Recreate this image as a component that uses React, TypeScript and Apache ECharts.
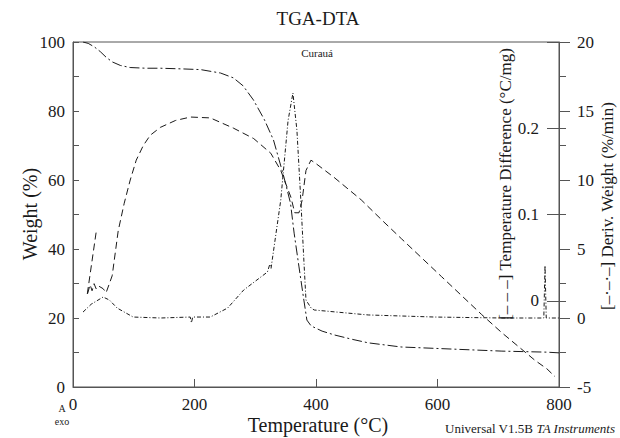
import React, { useEffect, useRef } from "react";
import * as echarts from "echarts";

// ---- data ----
const weightTemp = [16.5, 25, 35, 45, 55, 65, 78, 94, 120, 144, 180, 210, 243, 264, 280, 297, 315, 330, 347, 358, 364, 372, 380, 385, 392, 410, 430, 460, 486, 540, 623, 706, 780, 800];
const weightPct = [100, 99.6, 98.6, 97.2, 95.5, 94.2, 93.2, 92.6, 92.4, 92.4, 92.2, 92.0, 91.0, 89.6, 87.3, 83.2, 77.5, 71.6, 61, 53.3, 44.6, 34.8, 25.2, 19.4, 17.7, 16.2, 15.1, 13.8, 12.8, 11.6, 11.0, 10.4, 10.1, 9.9];

const derivTemp = [16.5, 30, 49.6, 60, 72.7, 99, 144, 193, 195, 197, 226, 254.5, 281, 320, 324, 326, 342, 354, 362, 368.6, 375, 380, 383.5, 392, 397, 486, 595, 706, 775, 777, 779, 800];
const derivVal = [0.43, 1.0, 1.52, 1.3, 0.72, 0.07, 0, 0.07, -0.35, 0.07, 0.07, 0.72, 2.03, 3.33, 3.9, 3.6, 8.55, 14.3, 16.3, 13.6, 8.55, 4.2, 1.3, 0.72, 0.58, 0.22, 0.07, 0, 0, 3.8, 0, 0];

const dtaTemp = [38, 23.1, 28.1, 31.4, 34.7, 38, 41.3, 49.6, 54.5, 64.5, 74.4, 84.3, 94.2, 104.1, 115.7, 127.3, 143.8, 168.6, 193.4, 226, 264.5, 297.5, 325.6, 342, 358.7, 365, 372, 377, 383.5, 391.7, 400, 429.8, 474.4, 510.7, 540.5, 606.6, 672.7, 705.8, 760.3, 780.2, 793.4];
const dtaVal = [0.079, 0.0058, 0.0186, 0.0116, 0.0198, 0.014, 0.0174, 0.014, 0.0093, 0.029, 0.081, 0.113, 0.14, 0.163, 0.18, 0.192, 0.201, 0.209, 0.213, 0.212, 0.2, 0.188, 0.171, 0.151, 0.12, 0.102, 0.102, 0.116, 0.151, 0.163, 0.159, 0.143, 0.117, 0.092, 0.072, 0.028, -0.016, -0.037, -0.069, -0.079, -0.088];

const xTicks = [0, 200, 400, 600, 800];
const weightTicks = [0, 20, 40, 60, 80, 100];
const derivTicks = [-5, 0, 5, 10, 15, 20];
const dtaTicks = [0, 0.1, 0.2];

const FONT = "'Liberation Serif', 'Times New Roman', serif";
const INK = "#1a1a1a";
const AXIS = "#555";

const pair = (xs: number[], ys: number[]) => xs.map((x, i) => [x, ys[i]]);

export default function App() {
  const ref = useRef<HTMLDivElement>(null);
  useEffect(() => {
    if (!ref.current) return;
    const chart = echarts.init(ref.current, undefined, { renderer: "svg" });
    const labelStyle = { color: INK, fontFamily: FONT, fontSize: 17 };
    const dtaBase = { type: "value", position: "right", min: -0.1, max: 0.3, interval: 0.1, axisLine: { show: false }, splitLine: { show: false } };
    chart.setOption({
      animation: false,
      backgroundColor: "#fff",
      textStyle: { fontFamily: FONT },
      grid: { left: 73, top: 42, width: 486, height: 345, show: true, borderColor: AXIS, borderWidth: 1, backgroundColor: "transparent" },
      xAxis: {
        type: "value",
        min: xTicks[0],
        max: xTicks[xTicks.length - 1],
        interval: 200,
        axisLine: { show: true, lineStyle: { color: AXIS } },
        axisTick: { show: true, inside: true, length: 8, lineStyle: { color: AXIS } },
        axisLabel: { ...labelStyle, margin: 9 },
        splitLine: { show: false },
      },
      yAxis: [
        {
          type: "value",
          position: "left",
          min: weightTicks[0],
          max: weightTicks[weightTicks.length - 1],
          interval: 20,
          axisLine: { show: true, lineStyle: { color: AXIS } },
          axisTick: { show: true, inside: true, length: 6, lineStyle: { color: AXIS } },
          minorTick: { show: true, splitNumber: 2, length: 6, lineStyle: { color: AXIS } },
          axisLabel: { ...labelStyle, margin: 8 },
          splitLine: { show: false },
        },
        {
          type: "value",
          position: "right",
          min: derivTicks[0],
          max: derivTicks[derivTicks.length - 1],
          interval: 5,
          axisLine: { show: true, lineStyle: { color: AXIS } },
          axisTick: { show: true, inside: false, length: 11, lineStyle: { color: AXIS } },
          minorTick: { show: true, splitNumber: 2, length: 7, lineStyle: { color: AXIS } },
          axisLabel: { ...labelStyle, margin: 18 },
          splitLine: { show: false },
        },
        {
          ...dtaBase,
          axisTick: { show: true, inside: true, length: 12, lineStyle: { color: AXIS } },
          axisLabel: {
            ...labelStyle,
            inside: true,
            margin: 20,
            formatter: (v: number) => {
              const hit = dtaTicks.find((t) => Math.abs(t - v) < 1e-6);
              return hit === undefined ? "" : hit === 0 ? "0" : hit.toFixed(1);
            },
          },
        },
        {
          ...dtaBase,
          axisTick: { show: true, inside: false, length: 7, lineStyle: { color: AXIS } },
          axisLabel: { show: false },
        },
      ],
      series: [
        {
          name: "Weight",
          type: "line",
          yAxisIndex: 0,
          showSymbol: false,
          data: pair(weightTemp, weightPct),
          lineStyle: { color: INK, width: 1, type: [10, 3, 2, 3] },
        },
        {
          name: "Deriv. Weight",
          type: "line",
          yAxisIndex: 1,
          showSymbol: false,
          data: pair(derivTemp, derivVal),
          lineStyle: { color: INK, width: 1, type: [4, 2, 1, 2] },
        },
        {
          name: "Temperature Difference",
          type: "line",
          yAxisIndex: 2,
          showSymbol: false,
          data: pair(dtaTemp, dtaVal),
          lineStyle: { color: INK, width: 1, type: [7, 4] },
        },
      ],
      graphic: [
        { type: "text", x: 318, y: 18, style: { text: "TGA-DTA", fontFamily: FONT, fontSize: 19, fill: INK, align: "center", verticalAlign: "middle" } },
        { type: "text", x: 317, y: 53, style: { text: "Curauá", fontFamily: FONT, fontSize: 11, fill: INK, align: "center", verticalAlign: "middle" } },
        { type: "text", x: 30, y: 214, rotation: Math.PI / 2, style: { text: "Weight (%)", fontFamily: FONT, fontSize: 20, fill: INK, align: "center", verticalAlign: "middle" } },
        { type: "text", x: 318, y: 425, style: { text: "Temperature (°C)", fontFamily: FONT, fontSize: 20, fill: INK, align: "center", verticalAlign: "middle" } },
        { type: "text", x: 62, y: 408, style: { text: "A", fontFamily: FONT, fontSize: 10, fill: INK, align: "center", verticalAlign: "middle" } },
        { type: "text", x: 62, y: 421, style: { text: "exo", fontFamily: FONT, fontSize: 10, fill: INK, align: "center", verticalAlign: "middle" } },
        {
          type: "text",
          x: 615,
          y: 428,
          style: {
            text: "Universal V1.5B {i|TA Instruments}",
            fontFamily: FONT,
            fontSize: 13,
            fill: INK,
            align: "right",
            verticalAlign: "middle",
            rich: { i: { fontStyle: "italic", fontFamily: FONT, fontSize: 13, fill: INK } },
          },
        },
        { type: "text", x: 505, y: 184, rotation: Math.PI / 2, style: { text: "[– – –] Temperature Difference (°C/mg)", fontFamily: FONT, fontSize: 17, fill: INK, align: "center", verticalAlign: "middle" } },
        { type: "text", x: 607, y: 206, rotation: Math.PI / 2, style: { text: "[–·–·–] Deriv. Weight (%/min)", fontFamily: FONT, fontSize: 17, fill: INK, align: "center", verticalAlign: "middle" } },
      ],
    });
    return () => chart.dispose();
  }, []);
  return <div ref={ref} style={{ position: "fixed", left: 0, top: 0, width: 620, height: 438 }} />;
}
